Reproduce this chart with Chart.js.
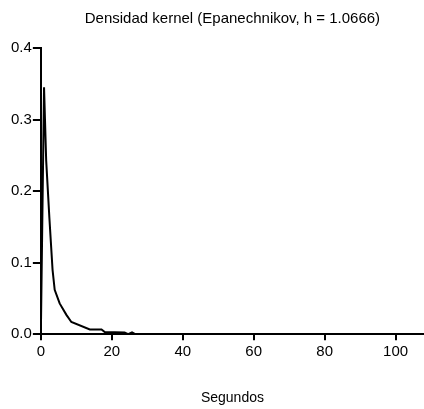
<!DOCTYPE html>
<html>
<head>
<meta charset="utf-8">
<script src="https://cdn.jsdelivr.net/npm/chart.js@4"></script>
<style>
  html, body { margin: 0; padding: 0; background: #fff; }
  #wrap { width: 424px; height: 409px; position: relative; }
</style>
</head>
<body>
<div id="wrap"><canvas id="kdeChart"></canvas></div>
<script>
// Kernel density estimate of response times (seconds)
const segundos = [0, 0.9, 1.5, 2.4, 3.3, 3.9, 5.3, 7.2, 8.6, 13.8, 17.1, 18.0, 23.6, 24.6, 25.7, 26.6, 108];
const densidad = [0, 0.345, 0.243, 0.163, 0.09, 0.062, 0.043, 0.027, 0.017, 0.0066, 0.0066, 0.003, 0.0024, 0, 0.0024, 0, 0];

const xTicks = [0, 20, 40, 60, 80, 100];
const yTicks = [0, 0.1, 0.2, 0.3, 0.4];

const titulo = 'Densidad kernel (Epanechnikov, h = 1.0666)';
const FONT = '"Liberation Sans", Arial, sans-serif';

// title centred over the plot area rather than the whole canvas
const plotTitle = {
    id: 'plotTitle',
    afterDraw(chart) {
        const { ctx, chartArea } = chart;
        ctx.save();
        ctx.font = '15px ' + FONT;
        ctx.fillStyle = '#000';
        ctx.textAlign = 'center';
        ctx.textBaseline = 'alphabetic';
        ctx.fillText(titulo, (chartArea.left + chartArea.right) / 2, 23);
        ctx.restore();
    }
};

const points = segundos.map((x, i) => ({ x: x, y: densidad[i] }));

new Chart(document.getElementById('kdeChart'), {
    type: 'line',
    data: {
        datasets: [{
            data: points,
            borderColor: '#000',
            borderWidth: 2,
            pointRadius: 0,
            tension: 0,
            fill: false
        }]
    },
    options: {
        responsive: true,
        maintainAspectRatio: false,
        animation: false,
        layout: { padding: { top: 48, left: 10, right: 0, bottom: 2 } },
        plugins: {
            legend: { display: false },
            tooltip: { enabled: false }
        },
        scales: {
            x: {
                type: 'linear',
                min: 0,
                max: 108,
                afterBuildTicks: scale => { scale.ticks = xTicks.map(v => ({ value: v })); },
                border: { color: '#000', width: 2 },
                grid: { drawOnChartArea: false, color: '#000', lineWidth: 2, tickLength: 6 },
                ticks: {
                    color: '#000',
                    padding: 3,
                    maxRotation: 0,
                    font: { family: FONT, size: 15 }
                },
                title: {
                    display: true,
                    text: 'Segundos',
                    color: '#000',
                    font: { family: FONT, size: 14 },
                    padding: { top: 26, bottom: 0 }
                }
            },
            y: {
                min: 0,
                max: 0.4,
                afterBuildTicks: scale => { scale.ticks = yTicks.map(v => ({ value: v })); },
                border: { color: '#000', width: 2 },
                grid: { drawOnChartArea: false, color: '#000', lineWidth: 2, tickLength: 8 },
                ticks: {
                    color: '#000',
                    padding: 1,
                    font: { family: FONT, size: 15 },
                    callback: v => v.toFixed(1)
                }
            }
        }
    },
    plugins: [plotTitle]
});
</script>
</body>
</html>
